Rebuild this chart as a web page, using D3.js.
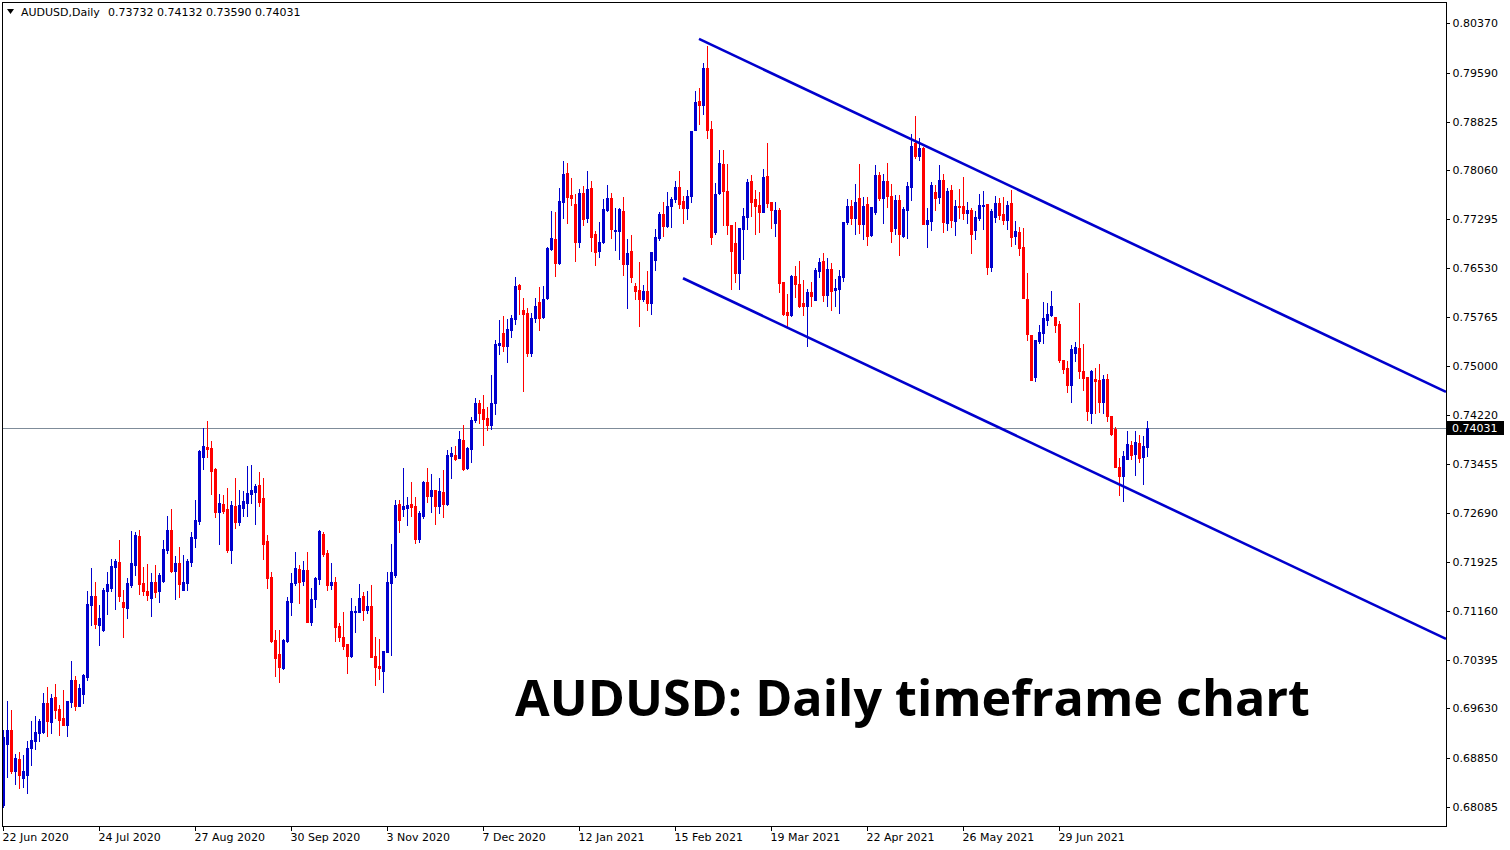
<!DOCTYPE html>
<html><head><meta charset="utf-8">
<script src="https://cdn.jsdelivr.net/npm/d3@7"></script>
<style>body{margin:0;background:#fff}svg{display:block}</style>
</head><body><svg id="c" width="1510" height="850"></svg>
<script>
// ---------- DATA ----------
const openP=[.6812,.6907,.6929,.6865,.6884,.6854,.6859,.6901,.6912,.6924,.6926,.6971,.6942,.6981,.6962,.6948,.6937,.6973,.7007,.6967,
.6986,.7012,.7125,.7139,.7094,.7086,.7147,.7152,.7184,.7192,.7130,.7120,.7156,.7188,.7233,.7159,.7147,.7136,.7161,.7147,
.7162,.7211,.7242,.7178,.7191,.7148,.7159,.7192,.7230,.7257,.7357,.7373,.7371,.7338,.7271,.7283,.7275,.7211,.7280,.7255,
.7277,.7285,.7299,.7302,.7313,.7293,.7225,.7169,.7070,.7048,.7026,.7069,.7130,.7159,.7181,.7162,.7180,.7098,.7134,.7166,
.7236,.7206,.7156,.7161,.7092,.7075,.7064,.7045,.7114,.7114,.7139,.7117,.7123,.7045,.7029,.7021,.7051,.7159,.7172,.7283,
.7275,.7277,.7283,.7280,.7228,.7264,.7318,.7296,.7305,.7280,.7302,.7283,.7358,.7360,.7355,.7383,.7340,.7369,.7415,.7441,
.7432,.7418,.7407,.7441,.7532,.7551,.7531,.7556,.7573,.7626,.7587,.7582,.7520,.7575,.7600,.7576,.7606,.7683,.7698,.7661,
.7756,.7802,.7767,.7753,.7694,.7771,.7731,.7778,.7706,.7680,.7694,.7744,.7763,.7711,.7711,.7742,.7659,.7680,.7625,.7618,
.7605,.7617,.7598,.7665,.7700,.7738,.7719,.7750,.7761,.7780,.7758,.7747,.7766,.7869,.7915,.7908,.7966,.7871,.7709,.7771,
.7816,.7774,.7720,.7692,.7645,.7714,.7733,.7789,.7761,.7752,.7741,.7797,.7756,.7724,.7744,.7631,.7584,.7579,.7640,.7628,
.7598,.7594,.7615,.7603,.7648,.7664,.7611,.7651,.7619,.7620,.7639,.7725,.7750,.7731,.7763,.7722,.7753,.7705,.7741,.7799,
.7763,.7789,.7766,.7716,.7760,.7703,.7744,.7780,.7849,.7828,.7841,.7722,.7727,.7772,.7764,.7791,.7724,.7775,.7727,.7750,
.7750,.7739,.7744,.7713,.7731,.7750,.7753,.7655,.7733,.7755,.7738,.7728,.7755,.7703,.7710,.7686,.7605,.7548,.7482,.7539,
.7551,.7572,.7579,.7576,.7565,.7509,.7496,.7470,.7520,.7528,.7492,.7482,.7426,.7479,.7477,.7443,.7479,.7421,.7401,.7341,
.7327,.7354,.7376,.7362,.7379,.7357,.73732];
const highP=[.6929,.6975,.6960,.6892,.6895,.6890,.6912,.6943,.6951,.6946,.6987,.6996,.6985,.7001,.6968,.6992,.6975,.7037,.7014,.7001,
.7017,.7147,.7183,.7161,.7125,.7152,.7177,.7197,.7197,.7227,.7148,.7167,.7241,.7239,.7242,.7185,.7189,.7175,.7188,.7175,
.7227,.7264,.7275,.7202,.7216,.7203,.7197,.7239,.7290,.7368,.7402,.7413,.7382,.7340,.7299,.7297,.7308,.7288,.7324,.7305,
.7303,.7343,.7344,.7315,.7333,.7324,.7235,.7177,.7086,.7086,.7072,.7137,.7175,.7208,.7188,.7194,.7208,.7152,.7169,.7242,
.7240,.7211,.7191,.7169,.7097,.7114,.7064,.7136,.7123,.7158,.7145,.7147,.7156,.7075,.7072,.7053,.7177,.7220,.7290,.7290,
.7340,.7294,.7318,.7294,.7272,.7319,.7340,.7330,.7305,.7324,.7336,.7368,.7373,.7374,.7398,.7407,.7373,.7420,.7449,.7446,
.7454,.7435,.7485,.7540,.7572,.7578,.7573,.7579,.7639,.7628,.7606,.7590,.7582,.7606,.7623,.7625,.7686,.7742,.7741,.7778,
.7821,.7818,.7794,.7769,.7777,.7781,.7805,.7789,.7711,.7725,.7761,.7783,.7771,.7747,.7747,.7764,.7698,.7705,.7629,.7662,
.7626,.7648,.7678,.7714,.7741,.7756,.7772,.7764,.7789,.7805,.7766,.7775,.7868,.7930,.7935,.7974,.8001,.7883,.7786,.7838,
.7838,.7816,.7720,.7725,.7716,.7747,.7792,.7799,.7775,.7772,.7808,.7849,.7756,.7756,.7747,.7631,.7612,.7642,.7656,.7664,
.7634,.7620,.7631,.7653,.7669,.7677,.7669,.7661,.7636,.7650,.7725,.7761,.7760,.7785,.7816,.7764,.7764,.7749,.7814,.7803,
.7800,.7818,.7785,.7767,.7767,.7749,.7788,.7863,.7891,.7857,.7843,.7747,.7788,.7783,.7814,.7800,.7778,.7783,.7760,.7777,
.7796,.7756,.7747,.7742,.7769,.7774,.7753,.7745,.7766,.7763,.7764,.7758,.7775,.7727,.7717,.7716,.7645,.7548,.7540,.7564,
.7600,.7598,.7617,.7576,.7570,.7509,.7507,.7532,.7537,.7598,.7534,.7482,.7493,.7496,.7503,.7485,.7487,.7421,.7404,.7355,
.7366,.7398,.7382,.7398,.7391,.7390,.74132];
const lowP=[.6808,.6855,.6862,.6845,.6838,.6840,.6830,.6874,.6899,.6912,.6924,.6920,.6924,.6948,.6921,.6937,.6920,.6965,.6960,.6967,
.6971,.7007,.7094,.7089,.7062,.7084,.7111,.7147,.7119,.7131,.7075,.7105,.7153,.7172,.7142,.7141,.7133,.7108,.7137,.7130,
.7161,.7206,.7177,.7134,.7137,.7148,.7148,.7186,.7216,.7252,.7338,.7357,.7299,.7263,.7220,.7269,.7208,.7191,.7245,.7250,
.7264,.7264,.7285,.7252,.7280,.7197,.7152,.7067,.7014,.7004,.7025,.7067,.7109,.7156,.7128,.7156,.7098,.7094,.7122,.7158,
.7202,.7148,.7150,.7069,.7069,.7056,.7018,.7043,.7083,.7114,.7102,.7112,.7043,.7000,.7009,.6989,.7051,.7047,.7169,.7239,
.7264,.7250,.7264,.7222,.7224,.7261,.7286,.7271,.7252,.7269,.7263,.7282,.7324,.7352,.7355,.7336,.7338,.7349,.7412,.7410,
.7376,.7399,.7401,.7424,.7518,.7523,.7506,.7545,.7565,.7581,.7460,.7515,.7515,.7568,.7556,.7575,.7605,.7681,.7640,.7659,
.7731,.7724,.7752,.7664,.7686,.7720,.7725,.7680,.7658,.7670,.7692,.7742,.7700,.7681,.7667,.7642,.7590,.7631,.7605,.7562,
.7601,.7587,.7581,.7650,.7697,.7703,.7717,.7717,.7756,.7747,.7724,.7730,.7756,.7869,.7879,.7894,.7857,.7691,.7706,.7769,
.7720,.7706,.7620,.7631,.7620,.7667,.7714,.7734,.7706,.7710,.7741,.7748,.7716,.7703,.7615,.7579,.7562,.7578,.7608,.7592,
.7579,.7531,.7594,.7603,.7639,.7601,.7594,.7587,.7594,.7582,.7633,.7722,.7722,.7706,.7708,.7698,.7689,.7703,.7738,.7760,
.7724,.7748,.7694,.7706,.7673,.7702,.7700,.7760,.7825,.7822,.7722,.7686,.7713,.7744,.7755,.7710,.7713,.7717,.7705,.7731,
.7730,.7724,.7677,.7698,.7728,.7714,.7644,.7648,.7725,.7730,.7722,.7714,.7687,.7691,.7673,.7606,.7540,.7477,.7476,.7535,
.7535,.7564,.7578,.7553,.7506,.7488,.7459,.7443,.7507,.7481,.7462,.7415,.7410,.7426,.7427,.7426,.7413,.7391,.7341,.7297,
.7288,.7354,.7354,.7329,.7349,.7315,.73590];
const closeP=[.6918,.6929,.6865,.6885,.6859,.6865,.6901,.6913,.6926,.6943,.6971,.6943,.6979,.6960,.6945,.6937,.6975,.7007,.6967,.6995,
.7015,.7126,.7139,.7095,.7105,.7148,.7158,.7186,.7194,.7139,.7122,.7159,.7191,.7235,.7158,.7147,.7141,.7161,.7145,.7172,
.7213,.7242,.7178,.7191,.7158,.7161,.7194,.7231,.7258,.7366,.7374,.7369,.7335,.7271,.7285,.7272,.7211,.7282,.7255,.7282,
.7288,.7301,.7305,.7311,.7286,.7220,.7167,.7069,.7042,.7028,.7070,.7131,.7159,.7183,.7161,.7180,.7098,.7134,.7167,.7241,
.7205,.7156,.7161,.7090,.7075,.7061,.7045,.7116,.7116,.7136,.7117,.7123,.7043,.7028,.7026,.7053,.7161,.7177,.7282,.7258,
.7280,.7282,.7278,.7228,.7269,.7318,.7296,.7305,.7280,.7304,.7283,.7360,.7363,.7354,.7385,.7338,.7371,.7415,.7441,.7426,
.7416,.7407,.7441,.7534,.7535,.7531,.7557,.7575,.7625,.7620,.7581,.7520,.7575,.7593,.7575,.7604,.7684,.7700,.7661,.7758,
.7800,.7764,.7763,.7694,.7771,.7730,.7777,.7702,.7678,.7694,.7745,.7763,.7714,.7713,.7745,.7659,.7676,.7639,.7617,.7605,
.7617,.7598,.7678,.7702,.7738,.7719,.7750,.7761,.7780,.7753,.7747,.7766,.7868,.7913,.7908,.7966,.7869,.7702,.7769,.7818,
.7774,.7720,.7680,.7645,.7716,.7734,.7788,.7756,.7750,.7741,.7796,.7755,.7744,.7744,.7629,.7581,.7579,.7640,.7628,.7594,
.7594,.7615,.7609,.7650,.7662,.7611,.7651,.7617,.7622,.7640,.7725,.7750,.7731,.7756,.7722,.7750,.7703,.7749,.7799,.7763,
.7789,.7766,.7711,.7760,.7706,.7745,.7782,.7844,.7828,.7841,.7722,.7728,.7783,.7763,.7791,.7725,.7774,.7728,.7750,.7749,
.7739,.7744,.7706,.7733,.7752,.7752,.7655,.7742,.7755,.7736,.7728,.7752,.7702,.7711,.7684,.7606,.7550,.7477,.7540,.7553,
.7575,.7581,.7593,.7564,.7509,.7495,.7470,.7526,.7529,.7492,.7481,.7429,.7492,.7476,.7443,.7479,.7421,.7393,.7341,.7327,
.7358,.7377,.7360,.7380,.7355,.7374,.74031];

const priceTicks=[0.80370,0.79590,0.78825,0.78060,0.77295,0.76530,0.75765,0.75000,0.74220,0.73455,0.72690,0.71925,0.71160,0.70395,0.69630,0.68850,0.68085];
const dateLabels=["22 Jun 2020","24 Jul 2020","27 Aug 2020","30 Sep 2020","3 Nov 2020","7 Dec 2020","12 Jan 2021","15 Feb 2021","19 Mar 2021","22 Apr 2021","26 May 2021","29 Jun 2021"];
const dateLabelBars=[0,24,48,72,96,120,144,168,192,216,240,264];
const channelUpper=[[174,0.8012],[360.75,0.7459]];
const channelLower=[[170,0.7637],[360.75,0.7072]];
const lastPrice=0.74031;
const symbolText="AUDUSD,Daily";
const ohlcText="0.73732 0.74132 0.73590 0.74031";
const titleText="AUDUSD: Daily timeframe chart";

// ---------- LAYOUT ----------
const BLUE="#0000cd", RED="#ff0000";
const L=2, R=1446, T=2, B=826;
const svg=d3.select("#c");
const x=d3.scaleLinear().domain([0,286]).range([3,1147]);
const y=d3.scaleLinear().domain([0.67787,0.80683]).range([826,3]);
const font="DejaVu Sans, sans-serif";

svg.append("rect").attr("width",1510).attr("height",850).attr("fill","#fff");
svg.append("defs").append("clipPath").attr("id","plot").append("rect")
  .attr("x",L).attr("y",T).attr("width",R-L).attr("height",B-T);

const g=svg.append("g").attr("clip-path","url(#plot)");

// current price line
g.append("line").attr("x1",L).attr("x2",R)
  .attr("y1",Math.round(y(lastPrice))+0.5).attr("y2",Math.round(y(lastPrice))+0.5)
  .attr("stroke","#7f8c99").attr("stroke-width",1);

// candles
const idx=d3.range(openP.length);
const cg=g.append("g").attr("shape-rendering","crispEdges");
idx.forEach(i=>{
  const o=openP[i],c=closeP[i],h=Math.max(highP[i],o,c),l=Math.min(lowP[i],o,c);
  const col=c>=o?BLUE:RED;
  const cx=Math.round(x(i));
  const yh=Math.round(y(h)), yl=Math.round(y(l));
  cg.append("rect").attr("x",cx).attr("y",yh).attr("width",1).attr("height",Math.max(1,yl-yh+1)).attr("fill",col);
  const yt=Math.round(y(Math.max(o,c))), yb=Math.round(y(Math.min(o,c)));
  cg.append("rect").attr("x",cx-1).attr("y",yt).attr("width",3).attr("height",Math.max(1,yb-yt+1)).attr("fill",col);
});

// channel lines
[channelUpper,channelLower].forEach(ln=>{
  g.append("line").attr("x1",x(ln[0][0])).attr("y1",y(ln[0][1]))
    .attr("x2",x(ln[1][0])).attr("y2",y(ln[1][1]))
    .attr("stroke",BLUE).attr("stroke-width",2.6);
});

// frame
svg.append("rect").attr("x",L+0.5).attr("y",T+0.5).attr("width",R-L).attr("height",B-T)
  .attr("fill","none").attr("stroke","#000").attr("stroke-width",1).attr("shape-rendering","crispEdges");

// right axis
const ya=svg.append("g").attr("transform",`translate(${R+0.5},0)`)
  .call(d3.axisRight(y).tickValues(priceTicks).tickFormat(d3.format(".5f")).tickSize(3).tickPadding(3).tickSizeOuter(0));
ya.select(".domain").remove();
ya.selectAll("text").attr("font-family",font).attr("font-size",11).attr("fill","#000");
ya.selectAll("line").attr("stroke","#000").attr("shape-rendering","crispEdges");

// bottom axis
const xa=svg.append("g").attr("transform",`translate(0,${B+0.5})`)
  .call(d3.axisBottom(x).tickValues(dateLabelBars).tickFormat((d,i)=>dateLabels[i]).tickSize(4).tickSizeOuter(0));
xa.select(".domain").remove();
xa.selectAll("line").attr("stroke","#000").attr("shape-rendering","crispEdges");
xa.selectAll("text").attr("font-family",font).attr("font-size",11).attr("fill","#000")
  .attr("text-anchor","start").attr("x",-1).attr("y",14.5).attr("dy",0);

// last price tag
const ly=Math.round(y(lastPrice));
svg.append("rect").attr("x",R+1).attr("y",ly-7).attr("width",57).attr("height",14).attr("fill","#000");
svg.append("text").attr("x",R+6).attr("y",ly+4).attr("font-family",font).attr("font-size",11)
  .attr("fill","#fff").text(d3.format(".5f")(lastPrice));

// header
svg.append("path").attr("d","M7,9 L14,9 L10.5,14 Z").attr("fill","#000");
svg.append("text").attr("x",21).attr("y",16).attr("font-family",font).attr("font-size",11).attr("fill","#000").text(symbolText);
svg.append("text").attr("x",108).attr("y",16).attr("font-family",font).attr("font-size",11).attr("fill","#000").text(ohlcText);

// big title
const tt=svg.append("text").attr("x",515).attr("y",716).attr("font-family","Open Sans, sans-serif")
  .attr("font-weight",700).attr("font-size",56).attr("fill","#000").text(titleText);
const w=tt.node().getComputedTextLength();
tt.attr("font-size",56*795/w);
</script></body></html>
